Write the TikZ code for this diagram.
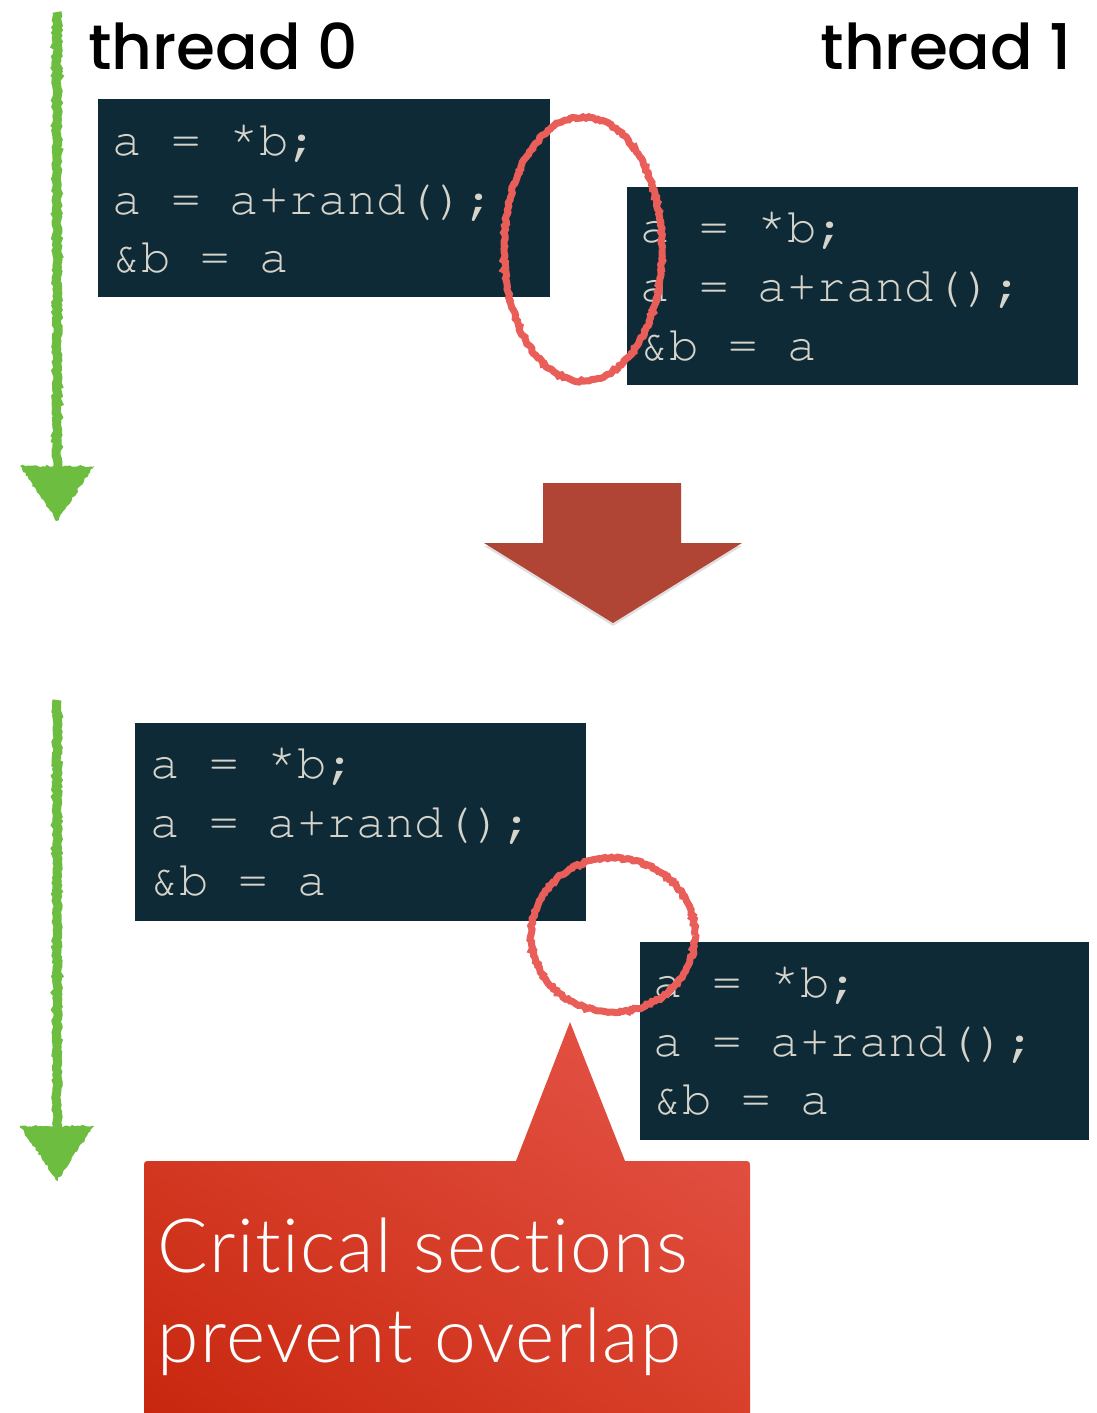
\documentclass[tikz,border=0pt]{standalone}
\usepackage{fontspec}
\setmainfont{Liberation Sans}
\newfontfamily\labelfont{Poppins Medium}
\newfontfamily\calloutfont[Ligatures=NoCommon, LetterSpace=2]{Lato Light}
\usetikzlibrary{decorations.pathmorphing,shadows,shadings}
\definecolor{codebg}{HTML}{0E2A37}
\definecolor{codefg}{HTML}{D6D4CA}
\definecolor{chalkgreen}{HTML}{6CBD40}
\definecolor{chalkred}{HTML}{E95E58}
\definecolor{bigarrow}{HTML}{B04535}
\definecolor{callA}{HTML}{C8260E}
\definecolor{callB}{HTML}{E6564C}
\definecolor{callM}{HTML}{D8402A}
\newcommand{\upstar}{\raisebox{9pt}{*}}
\tikzset{
  codebox/.style={fill=codebg, draw=none, inner sep=0, anchor=north west},
  codeline/.style={text=codefg, font=\fontencoding{T1}\fontfamily{pcr}\fontsize{49}{59}\selectfont, inner sep=0, anchor=base west},
  threadlabel/.style={font=\labelfont\fontsize{63}{70}\selectfont, inner sep=0, anchor=base west},
  chalk/.style={decorate, decoration={random steps, segment length=2.5pt, amplitude=1.2pt}},
  chalkline/.style={chalk, draw=chalkgreen, line width=9pt},
  ring/.style={chalk, draw=chalkred, line width=7pt},
}
\begin{document}
\begin{tikzpicture}[x=1pt,y=-1pt]
\useasboundingbox (0,0) rectangle (1097,1413);
% timelines
\coordinate (l0s) at (57,12);
\coordinate (l0e) at (57,470);
\coordinate (l1s) at (57,700);
\coordinate (l1e) at (57,1130);
\draw[chalkline] (l0s) -- (l0e);
\fill[chalkgreen, chalk] (20,466) -- (94,466) -- (57,521) -- cycle;
\draw[chalkline] (l1s) -- (l1e);
\fill[chalkgreen, chalk] (20,1126) -- (94,1126) -- (57,1181) -- cycle;
% labels
\node[threadlabel] (th0) at (88,70) {thread 0};
\node[threadlabel, anchor=base east] (th1) at (1072,70) {thread 1};
% top code boxes
\node[codebox, minimum width=452, minimum height=198] (c0) at (98,99) {};
\node[codeline] (c0a) at (112,155) {a = \upstar b;};
\node[codeline] (c0b) at (112,214) {a = a+rand();};
\node[codeline] (c0c) at (112,272) {\&b = a};
\node[codebox, minimum width=451, minimum height=198] (c1) at (627,187) {};
\node[codeline] (c1a) at (640,242) {a = \upstar b;};
\node[codeline] (c1b) at (640,301) {a = a+rand();};
\node[codeline] (c1c) at (640,360) {\&b = a};
\draw[ring] (583,249) ellipse [x radius=79, y radius=132];
% big arrow
\fill[bigarrow, drop shadow={opacity=0.25, shadow xshift=0pt, shadow yshift=-3pt}] (543,483) -- (681,483) -- (681,543) -- (742,543) -- (613,623) -- (484,543) -- (543,543) -- cycle;
% bottom code boxes
\node[codebox, minimum width=451, minimum height=198] (c2) at (135,723) {};
\node[codeline] (c2a) at (150,778) {a = \upstar b;};
\node[codeline] (c2b) at (150,837) {a = a+rand();};
\node[codeline] (c2c) at (150,895) {\&b = a};
\node[codebox, minimum width=449, minimum height=198] (c3) at (640,942) {};
\node[codeline] (c3a) at (653,997) {a = \upstar b;};
\node[codeline] (c3b) at (653,1056) {a = a+rand();};
\node[codeline] (c3c) at (653,1114) {\&b = a};
\draw[ring] (613,935) ellipse [x radius=82, y radius=77];
% callout
\shade[lower left=callA, upper right=callB, upper left=callM, lower right=callM]
  (144,1420) -- (144,1168) .. controls (144,1161) .. (151,1161) -- (516,1161) -- (570,1022) -- (625,1161) -- (743,1161) .. controls (750,1161) .. (750,1168) -- (750,1420) -- cycle;
\node[text=white, font=\calloutfont\fontsize{75}{90}\selectfont, inner sep=0, anchor=base west] (cl1) at (157,1272) {Critical sections};
\node[text=white, font=\calloutfont\fontsize{75}{90}\selectfont, inner sep=0, anchor=base west] (cl2) at (157,1362) {prevent overlap};
\end{tikzpicture}
\end{document}
